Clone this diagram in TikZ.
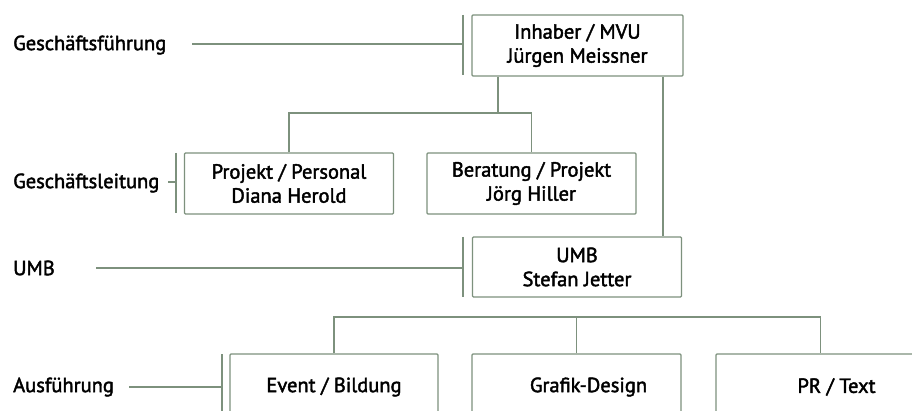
\documentclass[tikz,border=0pt]{standalone}
\usepackage{fontspec}
\setmainfont{PT Sans}
\newfontfamily\medfont[FakeBold=2]{PT Sans}
\definecolor{linec}{RGB}{125,145,125}
\tikzset{
  orgbox/.style={draw=linec, line width=1.2pt, minimum width=209pt, minimum height=61pt, inner sep=0pt, align=center, font=\medfont\fontsize{20.5}{24}\selectfont, rounded corners=1pt},
  conn/.style={draw=linec, line width=1.2pt},
  lvl/.style={anchor=west, inner sep=0pt, font=\medfont\fontsize{20.5}{24}\selectfont}
}
\begin{document}
\begin{tikzpicture}[x=1pt,y=-1pt]
\useasboundingbox (0,0) rectangle (912,411);
\clip (0,0) rectangle (912,411);
\fill[white] (0,0) rectangle (912,411);
% boxes
\node[orgbox, minimum width=211pt] (top) at (577.5,45.5) {Inhaber / MVU\\Jürgen Meissner};
\node[orgbox] (proj) at (289,183.5) {Projekt / Personal\\Diana Herold};
\node[orgbox] (ber) at (531.5,183.5) {Beratung / Projekt\\Jörg Hiller};
\node[orgbox, minimum height=60pt] (umb) at (577,267) {UMB\\Stefan Jetter};
\node[orgbox, minimum width=208pt, minimum height=66pt] (ev) at (334,387) {Event / Bildung};
\node[orgbox, minimum height=66pt] (gr) at (576.5,387) {\hspace*{24pt}Grafik-Design};
\node[orgbox, minimum height=66pt] (pr) at (820.5,387) {\hspace*{32pt}PR / Text};
% level labels
\node[lvl] (l1) at (13,45) {Geschäftsführung};
\node[lvl] (l2) at (13,183) {Geschäftsleitung};
\node[lvl] (l3) at (13,268) {UMB};
\node[lvl] (l4) at (13,387) {Ausführung};
% brackets
\coordinate (b1t) at (463,15); \coordinate (b1b) at (463,75);
\coordinate (b2t) at (176,153); \coordinate (b2b) at (176,213);
\coordinate (b3t) at (463,237); \coordinate (b3b) at (463,297);
\coordinate (b4t) at (222,354); \coordinate (b4b) at (222,420);
\draw[conn] (b1t) -- (b1b);
\draw[conn] (b2t) -- (b2b);
\draw[conn] (b3t) -- (b3b);
\draw[conn] (b4t) -- (b4b);
\coordinate (s1) at (192,44);
\coordinate (s2) at (168,182);
\coordinate (s3) at (96,268);
\coordinate (s4) at (129,387);
\draw[conn] (s1) -- (s1 -| b1t);
\draw[conn] (s2) -- (s2 -| b2t);
\draw[conn] (s3) -- (s3 -| b3t);
\draw[conn] (s4) -- (s4 -| b4t);
% tree connectors
\coordinate (j1) at (498,113);
\draw[conn] (top.south -| j1) -- (j1);
\draw[conn] (proj.north) |- (j1);
\draw[conn] (ber.north) |- (j1);
\coordinate (r) at (663,0);
\draw[conn] (top.south -| r) -- (umb.north -| r);
\coordinate (j2) at (577,317);
\draw[conn] (ev.north) |- (pr.north |- j2) -- (pr.north);
\draw[conn] (gr.north) -- (gr.north |- j2);
\end{tikzpicture}
\end{document}
